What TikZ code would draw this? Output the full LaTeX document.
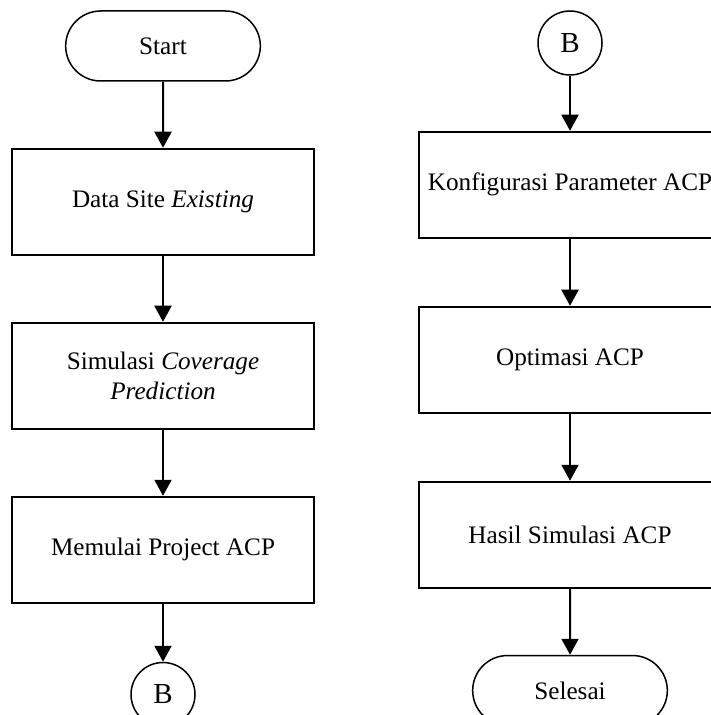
\documentclass[tikz,border=0pt]{standalone}
\usepackage{fontspec}
\setmainfont{Liberation Serif}
\usetikzlibrary{shapes.misc}
\usetikzlibrary{positioning}
\usetikzlibrary{arrows.meta}

\begin{document}
\begin{tikzpicture}
	\tikzset{
		procnode/.style={rectangle, draw=black, line width=1pt, minimum width=151pt, minimum height=53pt, text centered, font=\fontsize{12.6}{15}\selectfont},
		termnode/.style={rounded rectangle, draw=black, line width=0.75pt, minimum width=104pt, minimum height=35pt, font=\fontsize{12.6}{15}\selectfont},
		connnode/.style={circle, draw=black, line width=0.75pt, minimum size=32pt, inner sep=0pt, font=\fontsize{14.5}{17}\selectfont},
		>={Triangle[length=8pt, width=8.5pt]},
		node distance=33pt,
	}
	\useasboundingbox (0,0) rectangle (355pt,-357.5pt);

	\node[termnode] (start) at (81.5pt,-23pt) {Start};
	\node[procnode, below = of start] (data) {Data Site \textit{Existing}};
	\node[procnode, below = of data, align=center] (sim) {Simulasi \textit{Coverage}\\\textit{Prediction}};
	\node[procnode, below = of sim] (proj) {Memulai Project ACP};
	\node[connnode, below = 29pt of proj] (offB) {B};

	\draw[->, line width=1pt] (start) -- (data);
	\draw[->, line width=1pt] (data) -- (sim);
	\draw[->, line width=1pt] (sim) -- (proj);
	\draw[->, line width=1pt] (proj) -- (offB);

	\node[connnode] (onB) at (285pt,-21.5pt) {B};
	\node[procnode, below = 27.5pt of onB] (konf) {Konfigurasi Parameter ACP};
	\node[procnode, below = 33.5pt of konf] (opt) {Optimasi ACP};
	\node[procnode, below = 33.5pt of opt] (hasil) {Hasil Simulasi ACP};
	\node[termnode, below = of hasil] (selesai) {Selesai};

	\draw[->, line width=1pt] (onB) -- (konf);
	\draw[->, line width=1pt] (konf) -- (opt);
	\draw[->, line width=1pt] (opt) -- (hasil);
	\draw[->, line width=1pt] (hasil) -- (selesai);
\end{tikzpicture}
\end{document}
